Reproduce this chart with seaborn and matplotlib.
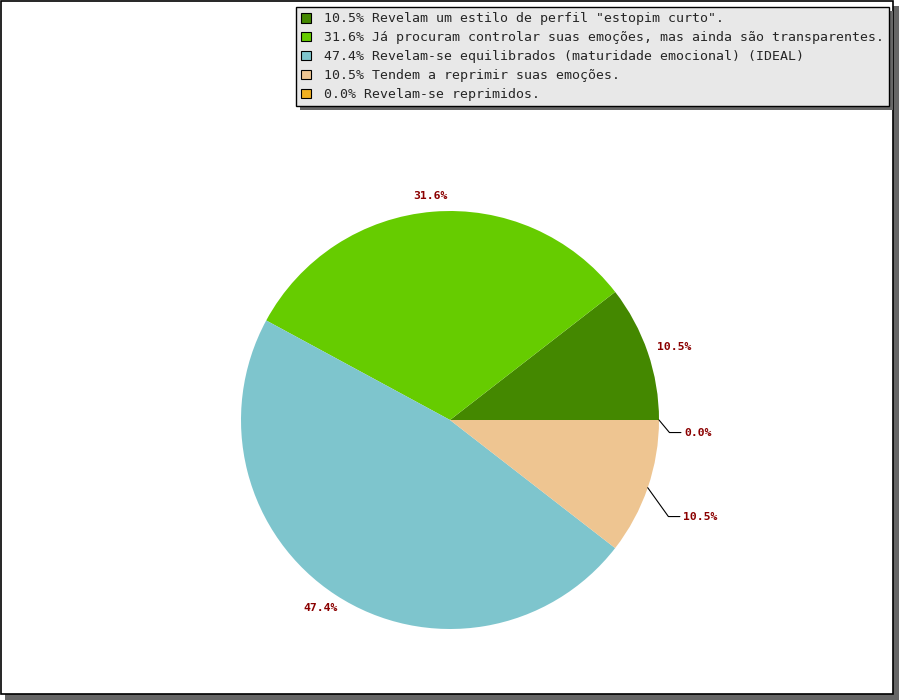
import matplotlib
matplotlib.use('Agg')
import numpy as np
import seaborn as sns
import matplotlib.pyplot as plt
from matplotlib.patches import Patch, Rectangle

categories = ['Revelam um estilo de perfil "estopim curto".',
              'Já procuram controlar suas emoções, mas ainda são transparentes.',
              'Revelam-se equilibrados (maturidade emocional) (IDEAL)',
              'Tendem a reprimir suas emoções.',
              'Revelam-se reprimidos.']
percents = [10.5, 31.6, 47.4, 10.5, 0.0]
colors = ['#448800', '#66cc00', '#7ec5cd', '#eec591', '#f0b020']

sns.set_style('white')
plt.rcParams['font.family'] = ['DejaVu Sans Mono', 'DejaVu Sans']

W, H = 900, 700
fig = plt.figure(figsize=(9, 7), dpi=100)

# frame with drop shadow (behind everything)
fig.patches.append(Rectangle((5 / W, 0), 894 / W, 694 / H, transform=fig.transFigure,
                             facecolor='#666666', edgecolor='none', zorder=-3))
fig.patches.append(Rectangle((1 / W, 6 / H), 892 / W, 693 / H, transform=fig.transFigure,
                             facecolor='white', edgecolor='black', linewidth=1.2, zorder=-2))

# pie axes: center (450, 420) px, radius 209 px
cx, cy, r = 450, 420, 209
ax = fig.add_axes([(cx - r) / W, (H - cy - r) / H, 2 * r / W, 2 * r / H])
ax.axis('off')
ax.set_zorder(1)

wedges, _ = ax.pie(percents, colors=colors, startangle=0, counterclock=True,
                   radius=1, normalize=True, wedgeprops=dict(linewidth=0))
ax.set_xlim(-1, 1)
ax.set_ylim(-1, 1)

lab_kw = dict(color='#8b0000', fontsize=8.2, fontweight='bold')
for i, w in enumerate(wedges):
    mid = np.deg2rad((w.theta1 + w.theta2) / 2)
    txt = f'{percents[i]:.1f}%'
    if i < 3:
        d = 1.05
        # push the text box outward so its edge sits at the anchor
        ox = 17 * np.cos(mid) * 0.72
        oy = 5 * np.sin(mid) * 0.72
        ax.annotate(txt, (d * np.cos(mid), d * np.sin(mid)), xytext=(ox, oy),
                    textcoords='offset points', ha='center', va='center',
                    annotation_clip=False, **lab_kw)
    else:
        # guide line for small slices
        x0, y0 = np.cos(mid), np.sin(mid)
        if i == 3:
            x1, y1 = 1.045, -0.462
        else:
            x1, y1 = 1.05, -0.06
        ax.plot([x0, x1, x1 + 0.055], [y0, y1, y1], color='black', lw=0.8, clip_on=False)
        ax.text(x1 + 0.07, y1, txt, ha='left', va='center', **lab_kw)

handles = [Patch(facecolor=c, edgecolor='black', linewidth=0.8) for c in colors]
labels = [f'{p:.1f}% {c}' for p, c in zip(percents, categories)]
leg = fig.legend(handles, labels, loc='upper right', bbox_to_anchor=(889 / W, 1 - 7 / H),
                 fontsize=9.5, frameon=True, fancybox=False, facecolor='#e8e8e8',
                 edgecolor='black', framealpha=1, handlelength=0.75, handleheight=0.75,
                 handletextpad=0.95, labelspacing=0.45, borderpad=0.4, borderaxespad=0)
leg.get_frame().set_linewidth(1.0)
leg.set_zorder(5)

fig.canvas.draw()
bb = leg.get_window_extent()
fig.patches.append(Rectangle(((bb.x0 + 4) / W, (bb.y0 - 4) / H), bb.width / W, bb.height / H,
                             transform=fig.transFigure, facecolor='#666666',
                             edgecolor='none', zorder=4))

fig.savefig('out.png', dpi=100)
